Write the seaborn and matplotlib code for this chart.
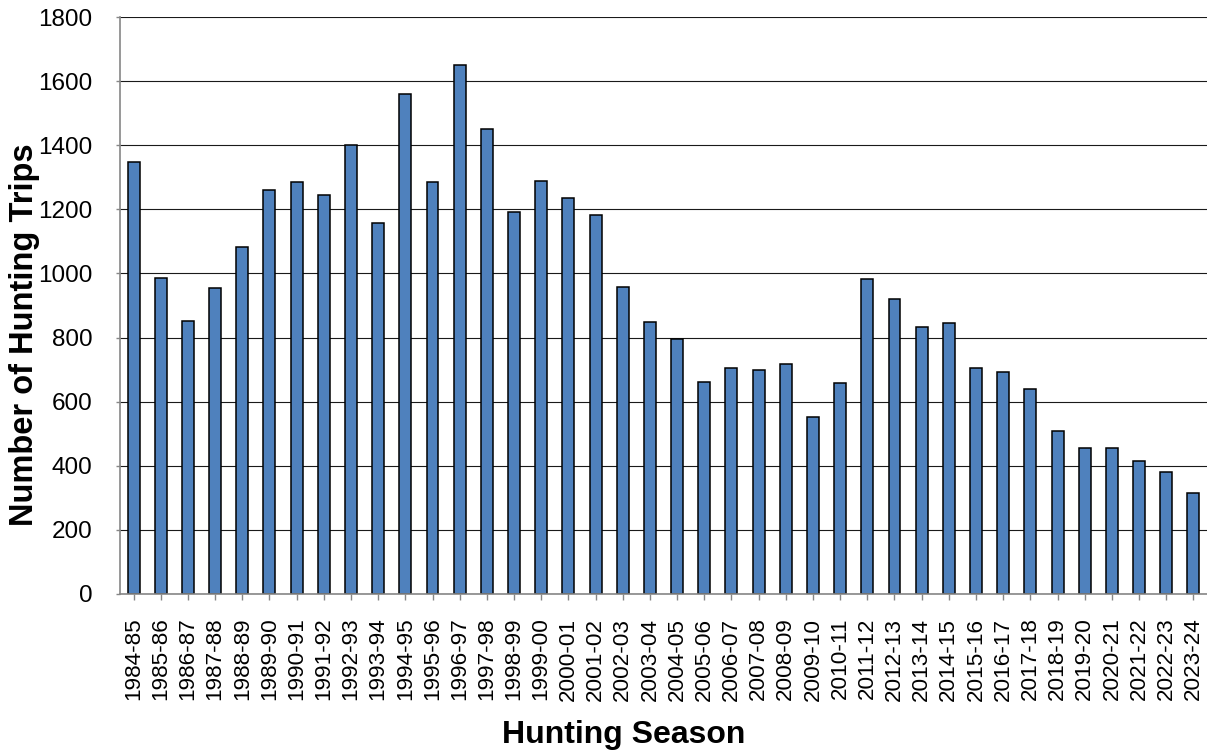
import matplotlib
matplotlib.use("Agg")
import matplotlib.pyplot as plt
import seaborn as sns
import pandas as pd

seasons = [
    "1984-85", "1985-86", "1986-87", "1987-88", "1988-89", "1989-90", "1990-91",
    "1991-92", "1992-93", "1993-94", "1994-95", "1995-96", "1996-97", "1997-98",
    "1998-99", "1999-00", "2000-01", "2001-02", "2002-03", "2003-04", "2004-05",
    "2005-06", "2006-07", "2007-08", "2008-09", "2009-10", "2010-11", "2011-12",
    "2012-13", "2013-14", "2014-15", "2015-16", "2016-17", "2017-18", "2018-19",
    "2019-20", "2020-21", "2021-22", "2022-23", "2023-24",
]
trips = [
    1347, 985, 853, 954, 1082, 1259, 1286, 1244, 1402, 1158, 1559, 1286, 1649, 1452,
    1191, 1287, 1235, 1181, 957, 848, 795, 661, 705, 698, 717, 552, 659, 983,
    920, 833, 844, 704, 692, 641, 507, 454, 454, 416, 382, 314,
]
y_ticks = [0, 200, 400, 600, 800, 1000, 1200, 1400, 1600, 1800]

df = pd.DataFrame({"Season": seasons, "Trips": trips})

sns.set_theme(style="white")
plt.rcParams["font.family"] = ["Liberation Sans", "DejaVu Sans"]

fig = plt.figure(figsize=(12.07, 7.53), dpi=100)
ax = fig.add_axes([120 / 1207, 1 - 594 / 753, 1 - 120 / 1207, 577 / 753])

sns.barplot(data=df, x="Season", y="Trips", color="#4F81BD", saturation=1,
            width=0.44, edgecolor="black", linewidth=1.1, ax=ax, zorder=3)

ax.set_xlim(-0.5, len(seasons) - 0.5)
ax.set_ylim(0, 1800)
ax.set_yticks(y_ticks)
ax.set_yticklabels([str(v) for v in y_ticks])
ax.yaxis.grid(True, color="#1a1a1a", linewidth=0.8, zorder=0)
ax.xaxis.grid(False)
ax.set_axisbelow(True)

for side in ["top", "right"]:
    ax.spines[side].set_visible(False)
for side in ["left", "bottom"]:
    ax.spines[side].set_color("#868686")
    ax.spines[side].set_linewidth(1.2)
    ax.spines[side].set_zorder(4)

ax.tick_params(axis="x", bottom=True, direction="out", length=4, width=1,
               color="#868686", labelsize=16.2, pad=13, labelrotation=90,
               labelcolor="black")
ax.tick_params(axis="y", left=True, direction="out", length=3, width=1,
               color="#868686", labelsize=17.5, pad=17, labelcolor="black")

ax.set_xlabel("Hunting Season", fontsize=23, fontweight="bold", color="black")
ax.set_ylabel("Number of Hunting Trips", fontsize=23.5, fontweight="bold", color="black")
ax.xaxis.set_label_coords((624 - 120) / 1087, (594 - 735) / 577)
ax.xaxis.label.set_va("center")
ax.yaxis.set_label_coords((25 - 120) / 1087, (594 - 335) / 577)
ax.yaxis.label.set_va("center")

fig.savefig("out.png", dpi=100, facecolor="white")
